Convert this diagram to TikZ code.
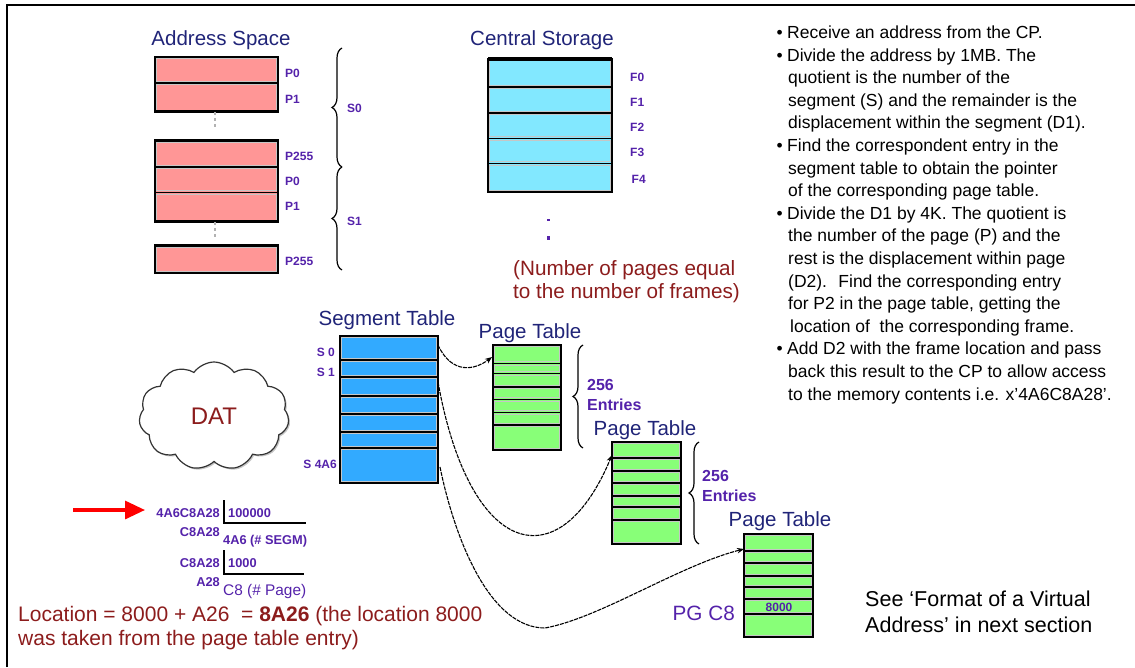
\documentclass[tikz,border=0pt]{standalone}
\usepackage{fontspec}
\setmainfont{Liberation Sans}
\usetikzlibrary{shapes.symbols,decorations.pathreplacing,arrows.meta,shadows}
\definecolor{titlec}{RGB}{32,36,120}
\definecolor{labc}{RGB}{84,34,170}
\definecolor{dred}{RGB}{140,28,28}
\definecolor{pinkc}{RGB}{255,150,150}
\definecolor{cyanc}{RGB}{130,232,255}
\definecolor{segc}{RGB}{50,170,255}
\definecolor{greenc}{RGB}{136,255,120}
\newcommand\memtable[6]{%
  \fill[#5] (#1,#3) rectangle (#2,#4);
  \foreach \ya/\yb in {#6} {%
    \draw[gray!45, line width=0.9pt] (#1+1.9,\ya+1.7) rectangle (#2-1.9,\yb-1.7);
    \draw[line width=1.6pt] (#1,\yb) -- (#2,\yb);}
  \draw[line width=2.6pt] (#1,#3) rectangle (#2,#4);}
\begin{document}
\begin{tikzpicture}[x=1pt,y=-1pt,
  title/.style={font=\fontsize{20.5}{24}\selectfont, text=titlec, inner sep=0pt, anchor=base},
  lbl/.style={font=\fontsize{12}{14}\selectfont\bfseries, text=labc, inner sep=0pt, anchor=base west},
  divt/.style={font=\fontsize{12.8}{15}\selectfont\bfseries, text=labc, inner sep=0pt},
  ent/.style={font=\fontsize{16}{18}\selectfont\bfseries, text=labc, inner sep=0pt, anchor=base west},
  redtxt/.style={font=\fontsize{20.7}{24}\selectfont, text=dred, inner sep=0pt, anchor=base west},
  rtxt/.style={font=\fontsize{17.5}{21}\selectfont, inner sep=0pt, anchor=base west},
  blacktxt/.style={font=\fontsize{21.5}{25}\selectfont, inner sep=0pt, anchor=base west},
  bracestyle/.style={decorate, decoration={brace, amplitude=10pt}, line width=1.2pt},
  conn/.style={line width=1.1pt, dash pattern=on 4pt off 1pt, -{Stealth[length=7pt,width=5.5pt]}},
]
\useasboundingbox (0,0) rectangle (1135,667);
% frame
\draw[line width=1.5pt] (7,667) -- (7,5) -- (1135,5);

% ---------- Address space ----------
\node[title] (astitle) at (221,45) {Address Space};
\memtable{155}{278}{57}{111.7}{pinkc}{57/82.7,82.7/111.7}
\memtable{155}{278}{140.7}{221.7}{pinkc}{140.7/166.7,166.7/192.3,192.3/221.7}
\memtable{155}{278}{245.7}{273}{pinkc}{245.7/273}
\draw[gray!60, line width=1.5pt, dash pattern=on 3pt off 3pt] (215,112) -- (215,127);
\draw[gray!60, line width=1.5pt, dash pattern=on 3pt off 3pt] (215,222) -- (215,237);
\node[lbl] (ap0) at (285,77.3) {P0};
\node[lbl] (ap1) at (285,103.3) {P1};
\node[lbl] (ap255) at (285,160.7) {P255};
\node[lbl] (bp0) at (285,185.7) {P0};
\node[lbl] (bp1) at (285,210.7) {P1};
\node[lbl] (bp255) at (285,265) {P255};
\draw[bracestyle] (342,167) -- (342,48);
\draw[bracestyle] (342,270) -- (342,167);
\node[lbl, anchor=west] (s0lab) at (347,108) {S0};
\node[lbl, anchor=west] (s1lab) at (347,221) {S1};

% ---------- Central storage ----------
\node[title] (cstitle) at (542,45) {Central Storage};
\memtable{488}{612}{59}{192}{cyanc}{59/86.7,86.7/112.7,112.7/138.3,138.3/163.3,163.3/192}
\draw[line width=4pt] (488,59) -- (612,59);
\node[lbl] (f0) at (630,81.7) {F0};
\node[lbl] (f1) at (630,106) {F1};
\node[lbl] (f2) at (630,131) {F2};
\node[lbl] (f3) at (630,156.7) {F3};
\node[lbl] (f4) at (631.5,183.3) {F4};
\fill[labc] (547,218.5) rectangle (549.5,221);
\fill[labc] (547,236) rectangle (550,239.5);
\node[redtxt] (npl1) at (513,275) {(Number of pages equal};
\node[redtxt] (npl2) at (513,298.3) {to the number of frames)};

% ---------- Segment table ----------
\node[title] (sttitle) at (387,325) {Segment Table};
\memtable{340}{438}{336}{483}{segc}{336/360,360/377,377/396,396/414,414/432,432/448,448/483}
\node[lbl, anchor=base east] (st0) at (335,356) {S 0};
\node[lbl, anchor=base east] (st1) at (335,376) {S 1};
\node[lbl, anchor=base east] (st4) at (337,468) {S 4A6};

% ---------- Page table 1 ----------
\node[title] (pt1title) at (530,338.3) {Page Table};
\memtable{493}{561}{345}{450}{greenc}{345/363.3,363.3/373.3,373.3/386.7,386.7/399.3,399.3/412.3,412.3/425,425/450}
\draw[bracestyle] (583,448) -- (583,345);
\node[ent] (n256a) at (587,390.7) {256};
\node[ent] (enta) at (587,410.7) {Entries};

% ---------- Page table 2 ----------
\node[title] (pt2title) at (645,435) {Page Table};
\memtable{612}{681}{442}{544}{greenc}{442/458,458/471,471/483,483/496,496/507,507/520,520/544}
\draw[bracestyle] (699,544) -- (699,442);
\node[ent] (n256b) at (702,481) {256};
\node[ent] (entb) at (702,501) {Entries};

% ---------- Page table 3 ----------
\node[title] (pt3title) at (780,526) {Page Table};
\memtable{744}{813}{534}{637}{greenc}{534/551,551/563,563/576,576/587,587/599,599/614,614/637}
\node[font=\fontsize{12}{14}\selectfont\bfseries, text=labc, inner sep=0pt] (v8000) at (779,607) {8000};
\node[font=\fontsize{20.7}{24}\selectfont, text=labc, inner sep=0pt, anchor=base east] (pgc8) at (735,620) {PG C8};

% ---------- connectors ----------
\coordinate (s0out) at (438,345);
\coordinate (pt1in) at (492,357);
\coordinate (s1out) at (438,382);
\coordinate (pt2in) at (612,455);
\coordinate (s4out) at (440,467);
\coordinate (c3mid) at (545,628);
\coordinate (pt3in) at (744,549);
\draw[conn] (s0out) .. controls (452,375) and (475,370) .. (pt1in);
\draw[conn] (s1out) .. controls (470,560) and (560,580) .. (pt2in);
\draw[conn] (s4out) .. controls (455,540) and (490,628) .. (c3mid) .. controls (600,618) and (680,565) .. (pt3in);

% ---------- DAT cloud ----------
\node[cloud, cloud puffs=11, cloud puff arc=110, aspect=1.35, draw=black!80, line width=1.2pt,
      fill=white, minimum width=150pt, minimum height=108pt,
      drop shadow={opacity=0.45, shadow xshift=1.5pt, shadow yshift=-1.5pt},
      font=\fontsize{24}{28}\selectfont, text=dred] (dat) at (214,416) {DAT};

% ---------- red arrow ----------
\coordinate (arrs) at (73,510);
\coordinate (arre) at (145,510);
\draw[red, line width=3.2pt, -{Triangle[length=20pt,width=18pt]}] (arrs) -- (arre);

% ---------- division ----------
\node[divt, anchor=base east] (dv1) at (220,517.3) {4A6C8A28};
\node[divt, anchor=base west] (dv2) at (228,517.3) {100000};
\coordinate (d1t) at (224,500);
\coordinate (d1c) at (224,523);
\coordinate (d1e) at (306,523);
\draw[line width=1.3pt] (d1t) -- (d1c) -- (d1e);
\node[divt, anchor=base east] (dv3) at (220,536) {C8A28};
\node[divt, anchor=base west] (dv4) at (223,544) {4A6 (\# SEGM)};
\node[divt, anchor=base east] (dv5) at (220,567) {C8A28};
\node[divt, anchor=base west] (dv6) at (228,567) {1000};
\coordinate (d2t) at (224,550);
\coordinate (d2c) at (224,574);
\coordinate (d2e) at (304,574);
\draw[line width=1.3pt] (d2t) -- (d2c) -- (d2e);
\node[divt, anchor=base east] (dv7) at (220,586) {A28};
\node[font=\fontsize{15.4}{18}\selectfont, text=labc, inner sep=0pt, anchor=base west] (dv8) at (223,595) {C8 (\# Page)};

% ---------- location text ----------
\node[redtxt, font=\fontsize{21}{24}\selectfont] (loc1) at (18,621.7) {Location = 8000 + A26 \ = \textbf{8A26} (the location 8000};
\node[redtxt, font=\fontsize{21}{24}\selectfont] (loc2) at (18,645) {was taken from the page table entry)};

% ---------- see text ----------
\node[blacktxt] (see1) at (865,606.7) {See ‘Format of a Virtual};
\node[blacktxt] (see2) at (865,632.7) {Address’ in next section};

% ---------- right text ----------
\newcommand\bul{\llap{•\hspace{4.5pt}}}
\node[rtxt] (r0) at (787,38.5) {\bul Receive an address from the CP.};
\node[rtxt] (r1) at (787,61.1) {\bul Divide the address by 1MB. The};
\node[rtxt] (r2) at (788,83.7) {quotient is the number of the};
\node[rtxt] (r3) at (788,106.3) {segment (S) and the remainder is the};
\node[rtxt] (r4) at (788,128.9) {displacement within the segment (D1).};
\node[rtxt] (r5) at (787,151.5) {\bul Find the correspondent entry in the};
\node[rtxt] (r6) at (788,174.1) {segment table to obtain the pointer};
\node[rtxt] (r7) at (788,196.7) {of the corresponding page table.};
\node[rtxt] (r8) at (787,219.3) {\bul Divide the D1 by 4K. The quotient is};
\node[rtxt] (r9) at (788,241.9) {the number of the page (P) and the};
\node[rtxt] (r10) at (788,264.5) {rest is the displacement within page};
\node[rtxt] (r11) at (788,287.1) {(D2). \ Find the corresponding entry};
\node[rtxt] (r12) at (788,309.7) {for P2 in the page table, getting the};
\node[rtxt] (r13) at (790,332.3) {location of \ the corresponding frame.};
\node[rtxt] (r14) at (787,354.9) {\bul Add D2 with the frame location and pass};
\node[rtxt] (r15) at (788,377.5) {back this result to the CP to allow access};
\node[rtxt] (r16) at (788,400.1) {to the memory contents i.e. x’4A6C8A28’.};
\end{tikzpicture}
\end{document}
